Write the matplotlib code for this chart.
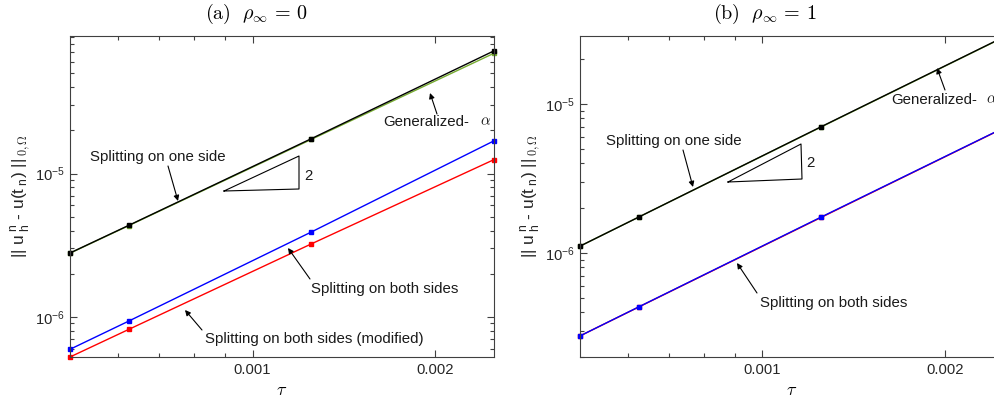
import matplotlib
matplotlib.use("Agg")
import matplotlib.pyplot as plt
from matplotlib.ticker import FixedLocator, NullFormatter, FixedFormatter

plt.rcParams['font.family'] = ['Liberation Sans', 'DejaVu Sans']
plt.rcParams['mathtext.fontset'] = 'cm'

# ---- data ----
tau = [1/2000, 1/1600, 1/800, 1/400]

one_side_a = [2.79e-6, 4.35e-6, 1.75e-5, 7.17e-5]
gen_alpha_a = [2.78e-6, 4.33e-6, 1.73e-5, 6.90e-5]
both_a = [5.94e-7, 9.35e-7, 3.91e-6, 1.69e-5]
both_mod_a = [5.25e-7, 8.18e-7, 3.23e-6, 1.25e-5]

one_side_b = [1.11e-6, 1.74e-6, 7.03e-6, 2.81e-5]
gen_alpha_b = [1.11e-6, 1.74e-6, 7.00e-6, 2.80e-5]
both_b = [2.77e-7, 4.34e-7, 1.74e-6, 6.90e-6]
both_mod_b = [2.77e-7, 4.33e-7, 1.73e-6, 6.88e-6]

x_ticks = [0.001, 0.002]
x_ticklabels = ['0.001', '0.002']
x_minor = [6e-4, 7e-4, 8e-4, 9e-4]
y_ticks = [1e-7, 1e-6, 1e-5, 1e-4]
y_ticklabels = [r'$\mathregular{10^{-7}}$', r'$\mathregular{10^{-6}}$',
                r'$\mathregular{10^{-5}}$', r'$\mathregular{10^{-4}}$']
y_minor = [m * 10.0**e for e in (-7, -6, -5) for m in range(2, 10)]

GREEN = '#77AC30'
W, H = 995, 403
fig = plt.figure(figsize=(W/100, H/100), dpi=100)

def px_axes(x0, y0, x1, y1):
    return fig.add_axes([x0/W, 1 - y1/H, (x1-x0)/W, (y1-y0)/H])

axA = px_axes(70, 36, 494, 357)
axB = px_axes(580, 36, 1003.5, 357)

AX_COL = '#404040'
ylabel = r'|| u$^{\mathregular{\,n}}_{\mathregular{\,h}}$ - u(t$_{\mathregular{\,n}}$) ||$_{\,0,\Omega}$'

def style(ax, ylim):
    ax.set_xscale('log')
    ax.set_yscale('log')
    ax.set_xlim(tau[0], tau[-1])
    ax.set_ylim(*ylim)
    ax.xaxis.set_major_locator(FixedLocator(x_ticks))
    ax.xaxis.set_major_formatter(FixedFormatter(x_ticklabels))
    ax.xaxis.set_minor_locator(FixedLocator(x_minor))
    ax.xaxis.set_minor_formatter(NullFormatter())
    ax.yaxis.set_major_locator(FixedLocator(y_ticks))
    ax.yaxis.set_major_formatter(FixedFormatter(y_ticklabels))
    ax.yaxis.set_minor_locator(FixedLocator(y_minor))
    ax.yaxis.set_minor_formatter(NullFormatter())
    ax.tick_params(which='both', direction='in', top=True, right=True,
                   color=AX_COL, labelcolor='#262626', labelsize=10.6, width=0.8)
    ax.tick_params(which='major', length=5, pad=4)
    ax.tick_params(which='minor', length=3)
    for s in ax.spines.values():
        s.set_color(AX_COL)
        s.set_linewidth(0.8)
    ax.set_xlabel(r'$\tau$', fontsize=13, labelpad=4)
    ax.set_ylabel(ylabel, fontsize=12.5, color='#262626', labelpad=1)

def draw(ax, one, gen, both, mod):
    kw = dict(marker='s', ms=3, lw=1.0, clip_on=False)
    ax.plot(tau, gen, color=GREEN, mfc=GREEN, mec=GREEN, **kw)
    ax.plot(tau, one, color='k', mfc='k', mec='k', **kw)
    ax.plot(tau, mod, color='r', mfc='r', mec='r', **kw)
    ax.plot(tau, both, color='b', mfc='b', mec='b', **kw)

draw(axA, one_side_a, gen_alpha_a, both_a, both_mod_a)
draw(axB, one_side_b, gen_alpha_b, both_b, both_mod_b)
style(axA, (5.25e-7, 9.1e-5))
style(axB, (2.0e-7, 2.86e-5))

# annotations in axes fraction from pixel positions
def frac(ax_box, px, py):
    x0, y0, x1, y1 = ax_box
    return ((px - x0) / (x1 - x0), (y1 - py) / (y1 - y0))

boxA = (70, 36, 494, 357)
boxB = (580, 36, 1003.5, 357)
TXT = dict(fontsize=10.8, color='#1a1a1a', va='center')
ARW = dict(arrowstyle='-|>', lw=0.8, color='k', mutation_scale=8, shrinkA=0, shrinkB=0)

def label(ax, box, text, pos, ha='center'):
    ax.text(*frac(box, *pos), text, transform=ax.transAxes, ha=ha, clip_on=False, **TXT)

def arrow(ax, box, tail, head):
    ax.annotate('', xy=frac(box, *head), xycoords='axes fraction',
                xytext=frac(box, *tail), textcoords='axes fraction',
                arrowprops=ARW, annotation_clip=False)

def triangle(ax, box, pts):
    xs = [frac(box, *p)[0] for p in pts + [pts[0]]]
    ys = [frac(box, *p)[1] for p in pts + [pts[0]]]
    ax.plot(xs, ys, transform=ax.transAxes, color='k', lw=0.8, clip_on=False)

# left panel
label(axA, boxA, 'Splitting on one side', (158, 157))
arrow(axA, boxA, (168, 166), (178, 201))
label(axA, boxA, 'Generalized-', (383, 122), ha='left')
label(axA, boxA, r'$\alpha$', (480, 121), ha='left')
arrow(axA, boxA, (437, 114), (430, 93))
triangle(axA, boxA, [(224, 191), (299, 189), (299, 156)])
label(axA, boxA, '2', (304, 176), ha='left')
label(axA, boxA, 'Splitting on both sides', (385, 289))
arrow(axA, boxA, (310, 279), (288, 248))
label(axA, boxA, 'Splitting on both sides (modified)', (314, 339))
arrow(axA, boxA, (202, 330), (185, 310))

# right panel
label(axB, boxB, 'Splitting on one side', (673.5, 141))
arrow(axB, boxB, (683, 150), (693, 187))
label(axB, boxB, 'Generalized-', (891, 100), ha='left')
label(axB, boxB, r'$\alpha$', (986, 99), ha='left')
arrow(axB, boxB, (945, 90), (937, 68))
triangle(axB, boxB, [(728, 182), (802, 179), (801, 144)])
label(axB, boxB, '2', (806, 163), ha='left')
label(axB, boxB, 'Splitting on both sides', (833.5, 303))
arrow(axB, boxB, (757, 293), (737, 263))

# titles
fig.text(257/W, 1 - 14/H, r'$\mathrm{(a)}\ \ \rho_\infty\, =\, 0$', ha='center', va='center', fontsize=14.5)
fig.text(765/W, 1 - 14/H, r'$\mathrm{(b)}\ \ \rho_\infty\, =\, 1$', ha='center', va='center', fontsize=14.5)

fig.savefig('out.png', dpi=100)
